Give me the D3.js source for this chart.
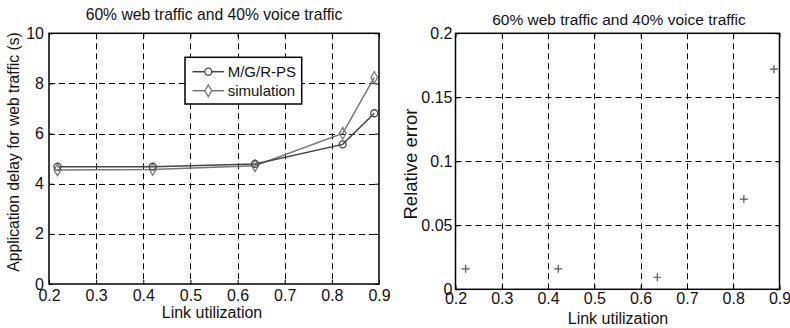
<!DOCTYPE html>
<html>
<head>
<meta charset="utf-8">
<script src="https://cdn.jsdelivr.net/npm/d3@7"></script>
<style>
  html, body { margin: 0; padding: 0; background: #fff; }
  svg { display: block; }
  svg text { font-family: "Liberation Sans", Arial, sans-serif; }
</style>
</head>
<body>
<svg id="chart" width="790" height="328"></svg>
<script>
// ---- data ----
const titleText = "60% web traffic and 40% voice traffic";
const utilization = [0.218, 0.42, 0.637, 0.823, 0.89];
const mgrpsDelay = [4.68, 4.68, 4.79, 5.57, 6.81];
const simDelay = [4.55, 4.57, 4.72, 6.01, 8.24];
const errUtilization = [0.222, 0.422, 0.636, 0.823, 0.888];
const relError = [0.016, 0.016, 0.0094, 0.0705, 0.172];
const xTicks = [0.2, 0.3, 0.4, 0.5, 0.6, 0.7, 0.8, 0.9];
const yTicksLeft = [0, 2, 4, 6, 8, 10];
const yTicksRight = [0, 0.05, 0.1, 0.15, 0.2];
const seriesNames = ["M/G/R-PS", "simulation"];

const svg = d3.select("#chart");
const colMGR = "#454545", colSim = "#777777";
const FONT = "'Liberation Sans', Arial, sans-serif";
const snap = v => Math.round(v) + 0.5;

function panel(o) {
  const x = d3.scaleLinear().domain([0.2, 0.9]).range([o.x0, o.x1]);
  const y = d3.scaleLinear().domain(o.ydom).range([o.y1, o.y0]);
  const g = svg.append("g");
  // grid
  g.selectAll(".gx").data(o.xTicks.slice(1, -1)).enter().append("line")
    .attr("x1", d => snap(x(d))).attr("x2", d => snap(x(d))).attr("y1", o.y0).attr("y2", o.y1)
    .attr("stroke", "#000").attr("stroke-width", 1).attr("stroke-dasharray", "6,4");
  g.selectAll(".gy").data(o.yTicks.slice(1, -1)).enter().append("line")
    .attr("y1", d => snap(y(d))).attr("y2", d => snap(y(d))).attr("x1", o.x0).attr("x2", o.x1)
    .attr("stroke", "#000").attr("stroke-width", 1).attr("stroke-dasharray", "6,4");
  // axes with inward ticks
  const ax = g.append("g").attr("transform", `translate(0,${o.y1})`)
    .call(d3.axisBottom(x).tickValues(o.xTicks).tickSize(-4).tickPadding(o.xPad).tickFormat(d3.format("")));
  const axT = g.append("g").attr("transform", `translate(0,${o.y0})`)
    .call(d3.axisTop(x).tickValues(o.xTicks).tickSize(-4).tickFormat(""));
  const ay = g.append("g").attr("transform", `translate(${o.x0},0)`)
    .call(d3.axisLeft(y).tickValues(o.yTicks).tickSize(-4).tickPadding(o.yPad).tickFormat(d3.format("")));
  const ayR = g.append("g").attr("transform", `translate(${o.x1},0)`)
    .call(d3.axisRight(y).tickValues(o.yTicks).tickSize(-4).tickFormat(""));
  [ax, axT, ay, ayR].forEach(a => {
    a.attr("font-family", FONT);
    a.select(".domain").remove();
    a.selectAll("line").attr("stroke", "#000").attr("stroke-width", 1);
    a.selectAll("text").attr("fill", "#111").style("font-size", o.tickFont + "px");
  });
  ax.selectAll("text").attr("dy", "0.71em");
  // box
  g.append("rect").attr("x", o.x0).attr("y", o.y0)
    .attr("width", o.x1 - o.x0).attr("height", o.y1 - o.y0)
    .attr("fill", "none").attr("stroke", "#000").attr("stroke-width", 1.5);
  // title
  svg.append("text").attr("x", o.titleX).attr("y", o.titleY).attr("text-anchor", "middle")
    .style("font-size", o.titleFont + "px").attr("fill", "#111").text(titleText);
  // x label
  svg.append("text").attr("x", o.xlabX).attr("y", o.xlabY).attr("text-anchor", "middle")
    .style("font-size", o.labFont + "px").attr("fill", "#111").text("Link utilization");
  // y label
  svg.append("text").attr("transform", `translate(${o.ylabX},${o.ylabY}) rotate(-90)`)
    .attr("text-anchor", "middle").style("font-size", o.ylabFont + "px").attr("fill", "#111").text(o.ylab);
  return { x, y, g };
}

// ---- left panel ----
const L = panel({
  x0: 49, x1: 379, y0: 33.3, y1: 284, ydom: [0, 10],
  xTicks, yTicks: yTicksLeft, tickFont: 16, yPad: 5, xPad: 6,
  titleX: 214, titleY: 20, titleFont: 15.7,
  xlabX: 212, xlabY: 318, labFont: 16,
  ylabX: 19, ylabY: 152, ylabFont: 15.7, ylab: "Application delay for web traffic (s)"
});
const lineGen = d3.line().x(d => L.x(d[0])).y(d => L.y(d[1]));
const mgrData = utilization.map((u, i) => [u, mgrpsDelay[i]]);
const simData = utilization.map((u, i) => [u, simDelay[i]]);
L.g.append("path").datum(simData).attr("d", lineGen).attr("fill", "none")
  .attr("stroke", colSim).attr("stroke-width", 1.5);
L.g.append("path").datum(mgrData).attr("d", lineGen).attr("fill", "none")
  .attr("stroke", colMGR).attr("stroke-width", 1.5);
const diamond = d3.symbol().type(d3.symbolDiamond).size(40);
L.g.selectAll(".sm").data(simData).enter().append("path")
  .attr("d", diamond).attr("transform", d => `translate(${L.x(d[0])},${L.y(d[1])})`)
  .attr("fill", "none").attr("stroke", colSim).attr("stroke-width", 1.3);
L.g.selectAll(".mm").data(mgrData).enter().append("circle")
  .attr("cx", d => L.x(d[0])).attr("cy", d => L.y(d[1])).attr("r", 3.5)
  .attr("fill", "none").attr("stroke", colMGR).attr("stroke-width", 1.3);

// legend
const lg = svg.append("g");
lg.append("rect").attr("x", 185).attr("y", 57.3).attr("width", 116.7).attr("height", 46.7)
  .attr("fill", "#fff").attr("stroke", "#000").attr("stroke-width", 1.5);
seriesNames.forEach((name, i) => {
  const yy = 71.7 + i * 19;
  const c = i === 0 ? colMGR : colSim;
  lg.append("line").attr("x1", 192.5).attr("x2", 224).attr("y1", yy).attr("y2", yy)
    .attr("stroke", c).attr("stroke-width", 1.5);
  if (i === 0) {
    lg.append("circle").attr("cx", 208.3).attr("cy", yy).attr("r", 3.5)
      .attr("fill", "#fff").attr("stroke", c).attr("stroke-width", 1.3);
  } else {
    lg.append("path").attr("d", diamond).attr("transform", `translate(208.3,${yy})`)
      .attr("fill", "#fff").attr("stroke", c).attr("stroke-width", 1.3);
  }
  lg.append("text").attr("x", 227.7).attr("y", yy).attr("dy", "0.36em")
    .style("font-size", "15px").attr("fill", "#111").text(name);
});

// ---- right panel ----
const R = panel({
  x0: 455.5, x1: 779.5, y0: 33.3, y1: 289.3, ydom: [0, 0.2],
  xTicks, yTicks: yTicksRight, tickFont: 16, yPad: 3, xPad: 3,
  titleX: 619, titleY: 24.5, titleFont: 15.5,
  xlabX: 618, xlabY: 324, labFont: 16,
  ylabX: 417, ylabY: 164, ylabFont: 18.5, ylab: "Relative error"
});
R.g.selectAll(".pt").data(errUtilization.map((u, i) => [u, relError[i]])).enter().append("path")
  .attr("d", "M-4,0H4M0,-4V4")
  .attr("transform", d => `translate(${R.x(d[0])},${R.y(d[1])})`)
  .attr("fill", "none").attr("stroke", "#555").attr("stroke-width", 1.2);
</script>
</body>
</html>
